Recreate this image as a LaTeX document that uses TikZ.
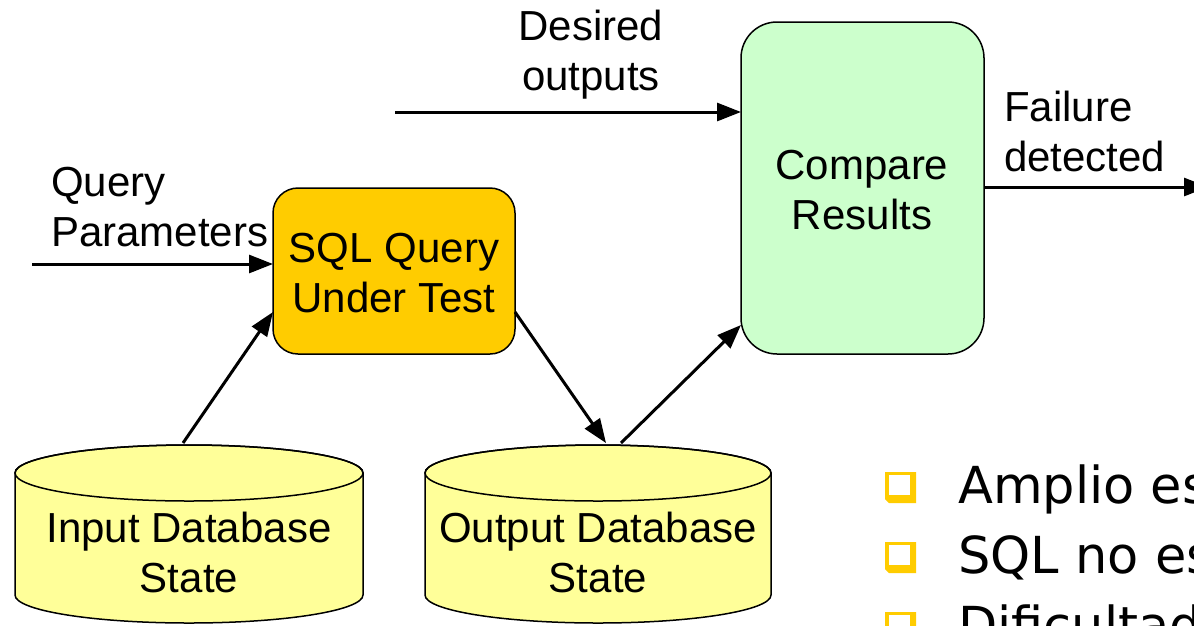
\documentclass[tikz,border=0pt]{standalone}
\usepackage{fontspec}
\setmainfont{Liberation Sans}
\newfontfamily\bulletfont{DejaVu Sans}
\usetikzlibrary{arrows.meta}
\definecolor{sqlfill}{HTML}{FFCC00}
\definecolor{cmpfill}{HTML}{CCFFCC}
\definecolor{dbfill}{HTML}{FFFF99}
\definecolor{bulletyellow}{HTML}{FFCC00}
\tikzset{
  box/.style={draw=black, line width=1.5pt, inner sep=0pt},
  lbl/.style={inner sep=0pt, font=\fontsize{42}{50}\selectfont},
  conn/.style={line width=3pt, -{Triangle[length=24pt,width=18pt]}},
  dbline/.style={draw=black, line width=1.5pt},
  btext/.style={inner sep=0pt, anchor=base west, font=\bulletfont\fontsize{51}{60}\selectfont},
}
\begin{document}
\begin{tikzpicture}[x=1pt,y=-1pt]
\useasboundingbox (0,0) rectangle (1194,625);
\clip (0,0) rectangle (1194,625);
\fill[white] (0,0) rectangle (1194,625);
% boxes
\draw[box, fill=sqlfill, rounded corners=25pt] (273,188) rectangle (515,354);
\node[lbl, align=center] (sql) at (394,273) {SQL Query\\Under Test};
\draw[box, fill=cmpfill, rounded corners=36pt] (741,22) rectangle (984,354);
\node[lbl, align=center] (cmp) at (862,190) {Compare\\Results};
% cylinders
\draw[dbline, fill=dbfill] (15,473) -- (15,595) arc[start angle=180,end angle=0,x radius=174,y radius=28] -- (363,473) arc[start angle=0,end angle=-180,x radius=174,y radius=28] -- cycle;
\draw[dbline] (189,473) ellipse[x radius=174,y radius=28];
\node[lbl, align=center] (indb) at (189,552) {Input Database\\State};
\draw[dbline, fill=dbfill] (425,473) -- (425,595) arc[start angle=180,end angle=0,x radius=173,y radius=28] -- (771,473) arc[start angle=0,end angle=-180,x radius=173,y radius=28] -- cycle;
\draw[dbline] (598,473) ellipse[x radius=173,y radius=28];
\node[lbl, align=center] (outdb) at (598,552) {Output Database\\State};
% labels
\node[lbl, align=left, anchor=west] (qp) at (51,207) {Query\\Parameters};
\node[lbl, align=center] (des) at (591,55) {Desired\\outputs};
\node[lbl, align=left, anchor=west] (fail) at (1004,131) {Failure\\detected};
% connector end points
\coordinate (qpS) at (32,264);
\coordinate (sqlIn) at (273,264);
\coordinate (desS) at (395,112);
\coordinate (cmpIn) at (741,112);
\coordinate (cmpOut) at (984,187);
\coordinate (failE) at (1208,187);
\coordinate (inTop) at (183,443);
\coordinate (sqlBL) at (273,312);
\coordinate (sqlBR) at (515,312);
\coordinate (outTopL) at (606,443);
\coordinate (outTopR) at (621,443);
\coordinate (cmpBL) at (741,325);
% connectors
\draw[conn] (qpS) -- (sqlIn);
\draw[conn] (desS) -- (cmpIn);
\draw[conn] (cmpOut) -- (failE);
\draw[conn] (inTop) -- (sqlBL);
\draw[conn] (sqlBR) -- (outTopL);
\draw[conn] (outTopR) -- (cmpBL);
% bullets
\foreach \yy in {472,542,612}{
  \fill[bulletyellow] (885,\yy) -- (916,\yy) -- (916,\yy+31) -- (889,\yy+31) -- (885,\yy+27) -- cycle;
  \fill[white] (889,\yy+3) rectangle (910,\yy+23);
}
\node[btext] (b1) at (958,503) {Amplio esp};
\node[btext] (b2) at (958,573) {SQL no es};
\node[btext] (b3) at (958,643) {Dificultad};
\end{tikzpicture}
\end{document}
